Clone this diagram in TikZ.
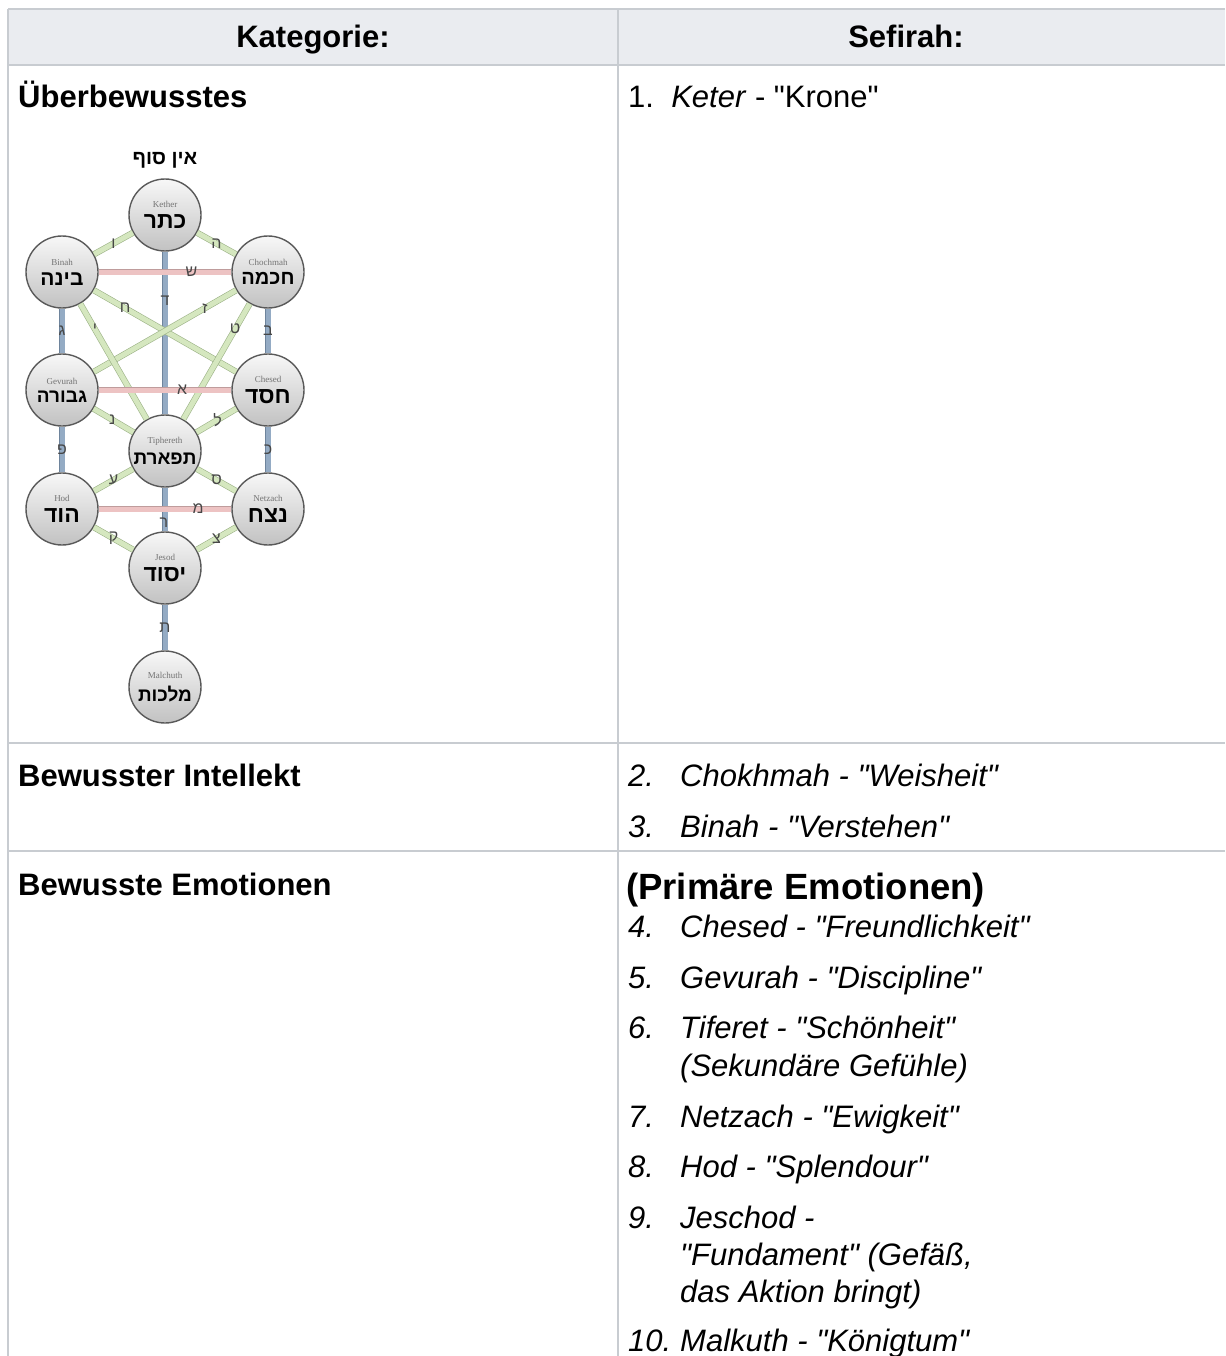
\documentclass[tikz,border=0pt]{standalone}
\usepackage{fontspec}
\setmainfont{Liberation Sans}[Ligatures=TeXOff]
\newfontfamily\hebfont[Script=Hebrew]{Liberation Sans}
\newfontfamily\treefont{Liberation Serif}
\TeXXeTstate=1
\usepackage{xcolor}
\usepackage{tikz}
\usetikzlibrary{arrows}

\definecolor{rulegrey}{HTML}{C8CCD1}
\definecolor{headgrey}{HTML}{EAECF0}
\definecolor{pillar}{HTML}{94ABC4}
\definecolor{pillaredge}{HTML}{6E849C}
\definecolor{crosspath}{HTML}{EDC3C3}
\definecolor{crossedge}{HTML}{BF9C9C}
\definecolor{diagpath}{HTML}{D5E7BF}
\definecolor{diagedge}{HTML}{9CB287}

\newcommand{\sefname}[3][23]{{\treefont\fontsize{9}{9}\selectfont\color{black!55}#2}\\[6pt]{\hebfont\bfseries\fontsize{#1}{#1}\selectfont\beginR #3\endR}}

\tikzset{
	sefira/.style={circle, draw=black!65, line width=1.4pt, minimum size=72pt, inner sep=0pt,
		top color=black!3, bottom color=black!24, align=center},
	pillarpath/.style={draw=pillaredge, double=pillar, double distance=5pt, line width=0.6pt},
	crosspathh/.style={draw=crossedge, double=crosspath, double distance=5pt, line width=0.6pt},
	diagpathh/.style={draw=diagedge, double=diagpath, double distance=5pt, line width=0.6pt},
	lbl/.style={font=\hebfont\fontsize{16}{16}\selectfont, text=black!72, inner sep=0pt},
	cat/.style={font=\bfseries\fontsize{31}{37}\selectfont, anchor=base west, inner sep=0pt},
	num/.style={font=\itshape\fontsize{31}{37}\selectfont, anchor=base west, inner sep=0pt},
	entry/.style={font=\itshape\fontsize{31}{37}\selectfont, anchor=base west, inner sep=0pt},
	rule/.style={draw=rulegrey, line width=1.5pt}
}

\begin{document}
\begin{tikzpicture}[x=1pt,y=-1pt]
		\useasboundingbox (0,0) rectangle (1225,1356);
		% table
		\fill[headgrey] (8,9) rectangle (1225,65);
		\draw[rule] (8,9) -- (1225,9);
		\draw[rule] (8,65) -- (1225,65);
		\draw[rule] (8,743) -- (1225,743);
		\draw[rule] (8,851) -- (1225,851);
		\draw[rule] (8,9) -- (8,1356);
		\draw[rule] (618,9) -- (618,1356);
		%
		\node[font=\bfseries\fontsize{31}{37}\selectfont, anchor=base, inner sep=0pt] (kat) at (313,48) {Kategorie:};
		\node[font=\bfseries\fontsize{31}{37}\selectfont, anchor=base, inner sep=0pt] (sef) at (906,48) {Sefirah:};
		%
		\node[cat] (ueber) at (18,108) {Überbewusstes};
		\node[cat] (intel) at (18,786) {Bewusster Intellekt};
		\node[cat] (emot) at (18,895) {Bewusste Emotionen};
		%
		\node[font=\fontsize{31}{37}\selectfont, anchor=base west, inner sep=0pt] (keter) at (628,108) {1.\ \ \textit{Keter} - "Krone"};
		\node[num] (n2) at (628,786) {2.};
		\node[entry] (t2) at (680,786) {Chokhmah - "Weisheit"};
		\node[num] (n3) at (628,837) {3.};
		\node[entry] (t3) at (680,837) {Binah - "Verstehen"};
		\node[font=\bfseries\fontsize{36.5}{40}\selectfont, anchor=base west, inner sep=0pt] (prim) at (626,899) {(Primäre Emotionen)};
		\node[num] (n4) at (628,937) {4.};
		\node[entry] (t4) at (680,937) {Chesed - "Freundlichkeit"};
		\node[num] (n5) at (628,988) {5.};
		\node[entry] (t5) at (680,988) {Gevurah - "Discipline"};
		\node[num] (n6) at (628,1038) {6.};
		\node[entry] (t6) at (680,1038) {Tiferet - "Schönheit"};
		\node[entry] (t6b) at (680,1076) {(Sekundäre Gefühle)};
		\node[num] (n7) at (628,1127) {7.};
		\node[entry] (t7) at (680,1127) {Netzach - "Ewigkeit"};
		\node[num] (n8) at (628,1177) {8.};
		\node[entry] (t8) at (680,1177) {Hod - "Splendour"};
		\node[num] (n9) at (628,1228) {9.};
		\node[entry] (t9) at (680,1228) {Jeschod -};
		\node[entry] (t9b) at (680,1265) {"Fundament" (Gefäß,};
		\node[entry] (t9c) at (680,1302) {das Aktion bringt)};
		\node[num] (n10) at (628,1351) {10.};
		\node[entry] (t10) at (680,1351) {Malkuth - "Königtum"};
		%
		% tree of life
		\node[font=\hebfont\bfseries\fontsize{20}{20}\selectfont, inner sep=0pt] (ain) at (165,160) {\beginR אין סוף\endR};
		\node[sefira] (kether) at (165,215) {\sefname{Kether}{כתר}};
		\node[sefira] (binah) at (62,272) {\sefname[21]{Binah}{בינה}};
		\node[sefira] (chokhmah) at (268,272) {\sefname[20]{Chochmah}{חכמה}};
		\node[sefira] (gevurah) at (62,390) {\sefname[19]{Gevurah}{גבורה}};
		\node[sefira] (chesed) at (268,390) {\sefname{Chesed}{חסד}};
		\node[sefira] (tiphereth) at (165,451) {\sefname[19]{Tiphereth}{תפארת}};
		\node[sefira] (hod) at (62,509) {\sefname{Hod}{הוד}};
		\node[sefira] (netzach) at (268,509) {\sefname{Netzach}{נצח}};
		\node[sefira] (jesod) at (165,568) {\sefname{Jesod}{יסוד}};
		\node[sefira] (malkuth) at (165,687) {\sefname[19]{Malchuth}{מלכות}};
		%
		\path[every edge/.style={pillarpath}]
		(kether) edge node[lbl, pos=0.3]{ד} (tiphereth)
		(tiphereth) edge node[lbl, pos=0.8, xshift=-1pt]{ר} (jesod)
		(jesod) edge node[lbl, pos=0.5]{ת} (malkuth)
		(binah) edge node[lbl, pos=0.5]{ג} (gevurah)
		(gevurah) edge node[lbl, pos=0.5]{פ} (hod)
		(chokhmah) edge node[lbl, pos=0.5]{ב} (chesed)
		(chesed) edge node[lbl, pos=0.5]{כ} (netzach);
		\path[every edge/.style={diagpathh}]
		(kether) edge node[lbl, pos=0.5]{ו} (binah)
		(kether) edge node[lbl, pos=0.5]{ה} (chokhmah)
		(binah) edge node[lbl, pos=0.22]{ח} (chesed)
		(chokhmah) edge node[lbl, pos=0.22]{ז} (gevurah)
		(binah) edge node[lbl, pos=0.22]{י} (tiphereth)
		(chokhmah) edge node[lbl, pos=0.22]{ט} (tiphereth)
		(gevurah) edge node[lbl, pos=0.47]{נ} (tiphereth)
		(chesed) edge node[lbl, pos=0.47]{ל} (tiphereth)
		(tiphereth) edge node[lbl, pos=0.5]{ע} (hod)
		(tiphereth) edge node[lbl, pos=0.5]{ס} (netzach)
		(hod) edge node[lbl, pos=0.5]{ק} (jesod)
		(netzach) edge node[lbl, pos=0.5]{צ} (jesod);
		\path[every edge/.style={crosspathh}]
		(binah) edge node[lbl, pos=0.7]{ש} (chokhmah)
		(gevurah) edge node[lbl, pos=0.63]{א} (chesed)
		(hod) edge node[lbl, pos=0.75]{מ} (netzach);
		\end{tikzpicture}
\end{document}
